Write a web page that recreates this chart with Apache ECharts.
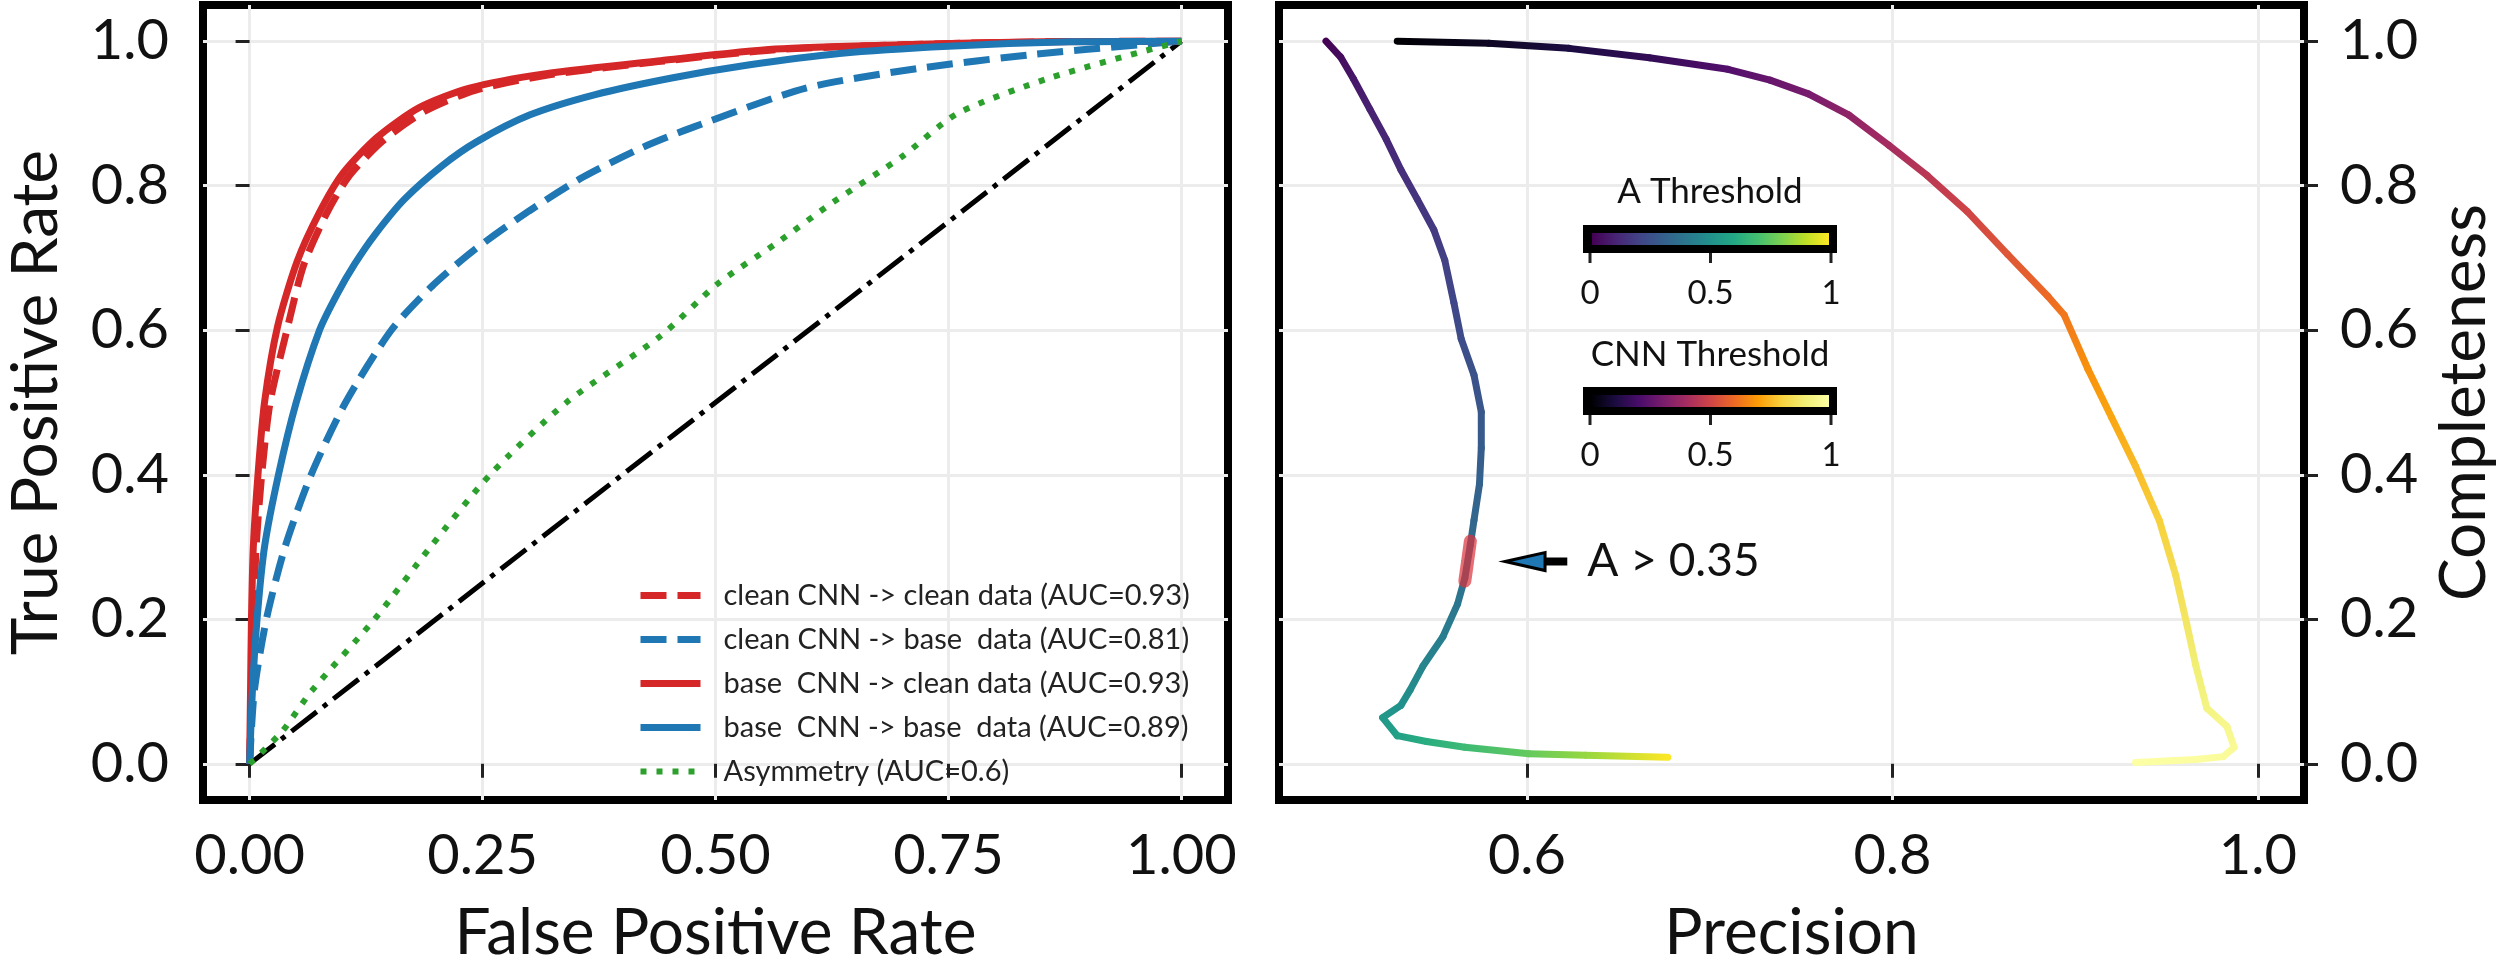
<!DOCTYPE html>
<html><head><meta charset="utf-8">
<script src="https://cdn.jsdelivr.net/npm/echarts@6/dist/echarts.min.js"></script>
<style>html,body{margin:0;padding:0;background:#fff}#c{width:2500px;height:970px}</style>
</head><body><div id="c"></div>
<script>
// ---------------- data ----------------
const rocXTicks = [0, 0.25, 0.5, 0.75, 1.0];
const rocYTicks = [0, 0.2, 0.4, 0.6, 0.8, 1.0];
const prXTicks = [0.6, 0.8, 1.0];
const prYTicks = [0, 0.2, 0.4, 0.6, 0.8, 1.0];
const cbTicks = [0, 0.5, 1];

const legendNames = [
  'clean CNN -> clean data (AUC=0.93)',
  'clean CNN -> base  data (AUC=0.81)',
  'base  CNN -> clean data (AUC=0.93)',
  'base  CNN -> base  data (AUC=0.89)',
  'Asymmetry (AUC=0.6)'
];

const cleanClean_fpr = [0,0.002,0.004,0.007,0.013,0.022,0.040,0.058,0.082,0.106,0.143,0.188,0.242,0.320,0.441,0.564,0.700,0.850,1.0];
const cleanClean_tpr = [0,0.10,0.20,0.30,0.40,0.50,0.60,0.69,0.76,0.812,0.862,0.903,0.932,0.953,0.972,0.988,0.995,0.999,1.0];

const cleanBase_fpr = [0,0.005,0.018,0.038,0.066,0.103,0.152,0.195,0.240,0.300,0.358,0.420,0.474,0.597,0.716,0.844,0.955,1.0];
const cleanBase_tpr = [0,0.10,0.20,0.30,0.40,0.50,0.60,0.66,0.71,0.765,0.812,0.852,0.880,0.935,0.962,0.982,0.995,1.0];

const baseClean_fpr = [0,0.001,0.002,0.004,0.009,0.016,0.030,0.051,0.075,0.100,0.137,0.182,0.236,0.318,0.441,0.564,0.700,0.850,1.0];
const baseClean_tpr = [0,0.10,0.20,0.30,0.40,0.50,0.605,0.695,0.763,0.817,0.867,0.908,0.935,0.955,0.973,0.989,0.995,0.999,1.0];

const baseBase_fpr = [0,0.003,0.008,0.016,0.031,0.050,0.075,0.094,0.113,0.135,0.166,0.207,0.244,0.301,0.371,0.453,0.535,0.633,0.750,0.880,1.0];
const baseBase_tpr = [0,0.10,0.20,0.30,0.40,0.50,0.600,0.650,0.692,0.733,0.781,0.828,0.861,0.898,0.926,0.949,0.967,0.983,0.993,0.999,1.0];

const asym_fpr = [0,0.035,0.066,0.134,0.194,0.258,0.340,0.441,0.502,0.565,0.626,0.700,0.760,0.861,1.0];
const asym_tpr = [0,0.045,0.10,0.20,0.30,0.40,0.50,0.592,0.664,0.720,0.777,0.840,0.900,0.950,1.0];

const chance_fpr = [0, 1];
const chance_tpr = [0, 1];

// Precision / completeness, A threshold curve (viridis)
const aPrec  = [0.490,0.498,0.505,0.514,0.523,0.531,0.540,0.549,0.555,0.560,0.564,0.571,0.575,0.575,0.574,0.571,0.569,0.566,0.562,0.554,0.543,0.536,0.531,0.521,0.529,0.545,0.566,0.601,0.632,0.677];
const aCompl = [1.000,0.978,0.948,0.906,0.864,0.822,0.781,0.739,0.697,0.638,0.588,0.538,0.487,0.437,0.387,0.337,0.303,0.257,0.221,0.176,0.135,0.102,0.081,0.064,0.039,0.031,0.023,0.014,0.012,0.009];
const aThr   = [0.00,0.03,0.06,0.09,0.11,0.13,0.15,0.17,0.19,0.21,0.23,0.25,0.27,0.29,0.31,0.33,0.35,0.37,0.39,0.42,0.45,0.48,0.50,0.53,0.57,0.62,0.68,0.76,0.84,1.00];

// highlighted A > 0.35 section
const hlPrec  = [0.569, 0.5675, 0.566];
const hlCompl = [0.308, 0.280, 0.253];

// CNN threshold curve (inferno)
const cPrec  = [0.529,0.579,0.623,0.667,0.710,0.733,0.754,0.776,0.798,0.819,0.841,0.863,0.885,0.894,0.907,0.920,0.933,0.946,0.955,0.961,0.966,0.972,0.983,0.987,0.981,0.966,0.933];
const cCompl = [1.000,0.997,0.990,0.977,0.961,0.946,0.927,0.898,0.856,0.814,0.764,0.705,0.647,0.621,0.546,0.479,0.412,0.337,0.261,0.194,0.136,0.077,0.052,0.023,0.010,0.006,0.002];
const cThr   = [0.00,0.05,0.10,0.15,0.22,0.26,0.30,0.35,0.40,0.45,0.50,0.55,0.60,0.63,0.68,0.72,0.76,0.80,0.84,0.87,0.90,0.93,0.95,0.97,0.98,0.99,1.00];

const annText = 'A > 0.35';
const annTip = [0.588, 0.28];
const annTextAt = [0.633, 0.28];

// ---------------- styles ----------------
const FONT = 'Lato';
const RED = '#d62728', BLUE = '#1f77b4', GREEN = '#2ca02c';
const VIRIDIS = ['#440154','#482475','#414487','#355f8d','#2a788e','#21918c','#22a884','#44bf70','#7ad151','#bddf26','#fde725'];
const INFERNO = ['#000004','#1b0c41','#4a0c6b','#781c6d','#a52c60','#cf4446','#ed6925','#fb9b06','#f7d13d','#f1ef75','#fcffa4'];

function hexToRgb(h){return [parseInt(h.slice(1,3),16),parseInt(h.slice(3,5),16),parseInt(h.slice(5,7),16)];}
function cmap(stops,t){
  t=Math.max(0,Math.min(1,t)); const n=stops.length-1; const f=t*n;
  const i=Math.min(n-1,Math.floor(f)); const u=f-i;
  const a=hexToRgb(stops[i]), b=hexToRgb(stops[i+1]);
  return 'rgb('+a.map((v,k)=>Math.round(v+(b[k]-v)*u)).join(',')+')';
}
function zip(a,b){return a.map((v,i)=>[v,b[i]]);}

function rocSeries(name, xs, ys, color, dash, width){
  return {type:'line', name:name, xAxisIndex:0, yAxisIndex:0, data:zip(xs,ys),
    symbol:'none', showSymbol:false, smooth:0.25, animation:false, z:3,
    lineStyle:{color:color, width:width, type:dash, cap:'butt'}, itemStyle:{color:color}};
}
function coloredSeries(xs, ys, ts, stops, width){
  const data = xs.map((x,i)=>[x, ys[i], ts[i]]);
  return {type:'custom', xAxisIndex:1, yAxisIndex:1, data:data, encode:{x:0,y:1}, z:3, animation:false,
    renderItem:function(params, api){
      const i = params.dataIndex;
      if (i >= data.length-1) return null;
      const p0 = api.coord([data[i][0], data[i][1]]);
      const p1 = api.coord([data[i+1][0], data[i+1][1]]);
      const c0 = cmap(stops, data[i][2]), c1 = cmap(stops, data[i+1][2]);
      return {type:'line', shape:{x1:p0[0],y1:p0[1],x2:p1[0],y2:p1[1]},
        style:{stroke:new echarts.graphic.LinearGradient(p0[0],p0[1],p1[0]+0.01,p1[1]+0.01,[{offset:0,color:c0},{offset:1,color:c1}],true),
               lineWidth:width, lineCap:'round'}};
    }};
}

const tickStyle = {show:true, inside:false, length:14, lineStyle:{width:3, color:'#222'}};
const splitStyle = {show:true, lineStyle:{color:'#ececec', width:3}};
const labelStyle = {fontSize:56, color:'#111', fontFamily:FONT};
const nameStyle = {fontSize:64, color:'#111', fontFamily:FONT};

const option = {
  animation:false,
  backgroundColor:'#ffffff',
  textStyle:{fontFamily:FONT},
  grid:[
    {left:203, top:5, width:1025, height:812, show:true, borderColor:'#000', borderWidth:8, backgroundColor:'rgba(0,0,0,0)'},
    {left:1279, top:5, width:1025, height:812, show:true, borderColor:'#000', borderWidth:8, backgroundColor:'rgba(0,0,0,0)'}
  ],
  xAxis:[
    {gridIndex:0, type:'value', min:-0.05, max:1.05, name:'False Positive Rate', nameLocation:'middle', nameGap:101, nameTextStyle:nameStyle,
     axisLine:{show:false}, axisTick:Object.assign({customValues:rocXTicks}, tickStyle),
     axisLabel:Object.assign({customValues:rocXTicks, margin:28, formatter:v=>v.toFixed(2)}, labelStyle), splitLine:splitStyle},
    {gridIndex:1, type:'value', min:0.4643, max:1.0252, name:'Precision', nameLocation:'middle', nameGap:101, nameTextStyle:nameStyle,
     axisLine:{show:false}, axisTick:Object.assign({customValues:prXTicks}, tickStyle),
     axisLabel:Object.assign({customValues:prXTicks, margin:28, formatter:v=>v.toFixed(1)}, labelStyle), splitLine:splitStyle}
  ],
  yAxis:[
    {gridIndex:0, type:'value', min:-0.05, max:1.05, name:'True Positive Rate', nameLocation:'middle', nameGap:135, nameRotate:90, nameTextStyle:nameStyle,
     axisLine:{show:false}, axisTick:Object.assign({customValues:rocYTicks}, tickStyle),
     axisLabel:Object.assign({customValues:rocYTicks, margin:34, formatter:v=>v.toFixed(1)}, labelStyle), splitLine:splitStyle},
    {gridIndex:1, type:'value', position:'right', min:-0.05, max:1.05, name:'Completeness', nameLocation:'middle', nameGap:128, nameRotate:90, nameTextStyle:nameStyle,
     axisLine:{show:false}, axisTick:Object.assign({customValues:prYTicks}, tickStyle),
     axisLabel:Object.assign({customValues:prYTicks, margin:36, formatter:v=>v.toFixed(1)}, labelStyle), splitLine:splitStyle}
  ],
  legend:{data:legendNames, orient:'vertical', left:632, top:576, itemWidth:60, itemHeight:30, itemGap:15,
    itemStyle:{opacity:0}, lineStyle:{width:'inherit'},
    textStyle:{fontSize:29, color:'#222', fontFamily:FONT, padding:[0,0,0,18]}},
  series:[
    Object.assign(rocSeries('', chance_fpr, chance_tpr, '#000', [32,8,5,8], 5), {z:2, smooth:false}),
    rocSeries(legendNames[0], cleanClean_fpr, cleanClean_tpr, RED, [26,11], 7),
    rocSeries(legendNames[1], cleanBase_fpr, cleanBase_tpr, BLUE, [26,11], 7),
    rocSeries(legendNames[2], baseClean_fpr, baseClean_tpr, RED, 'solid', 7),
    rocSeries(legendNames[3], baseBase_fpr, baseBase_tpr, BLUE, 'solid', 7),
    rocSeries(legendNames[4], asym_fpr, asym_tpr, GREEN, [6,10], 6),
    coloredSeries(aPrec, aCompl, aThr, VIRIDIS, 7),
    coloredSeries(cPrec, cCompl, cThr, INFERNO, 7),
    {type:'line', xAxisIndex:1, yAxisIndex:1, data:zip(hlPrec, hlCompl), symbol:'none', z:4,
     lineStyle:{color:'rgba(220,50,60,0.7)', width:13, cap:'round'}}
  ]
};

const chart = echarts.init(document.getElementById('c'));
chart.setOption(option);

// colorbars and annotation
function grad(stops){return new echarts.graphic.LinearGradient(0,0,1,0, stops.map((c,i)=>({offset:i/(stops.length-1), color:c})));}
function colorbar(title, stops, titleY, barY, labelY){
  const x0 = 1590, x1 = 1831, els = [];
  els.push({type:'text', style:{x:1710, y:titleY, text:title, fill:'#111', font:'35px '+FONT, textAlign:'center', textVerticalAlign:'middle'}, z:10});
  els.push({type:'rect', shape:{x:1583, y:barY, width:254, height:28}, style:{fill:'#000'}, z:10});
  els.push({type:'rect', shape:{x:1592, y:barY+8, width:237, height:12}, style:{fill:grad(stops)}, z:11});
  cbTicks.forEach(v=>{
    const x = x0 + (x1-x0)*v;
    els.push({type:'line', shape:{x1:x, y1:barY+28, x2:x, y2:barY+38}, style:{stroke:'#222', lineWidth:3}, z:10});
    els.push({type:'text', style:{x:x, y:labelY, text:String(v), fill:'#111', font:'33px '+FONT, textAlign:'center', textVerticalAlign:'middle'}, z:10});
  });
  return els;
}
const tip = chart.convertToPixel({gridIndex:1}, annTip);
const tx = chart.convertToPixel({gridIndex:1}, annTextAt);
const graphics = [].concat(
  colorbar('A Threshold', VIRIDIS, 192, 225, 293),
  colorbar('CNN Threshold', INFERNO, 355, 387, 455),
  [
    {type:'rect', shape:{x:tip[0]+36, y:tip[1]-4, width:(tx[0]-20)-(tip[0]+36), height:8}, style:{fill:'#000'}, z:10},
    {type:'polygon', shape:{points:[[tip[0],tip[1]],[tip[0]+40,tip[1]-9],[tip[0]+40,tip[1]+9]]}, style:{fill:BLUE, stroke:'#000', lineWidth:3, lineJoin:'miter'}, z:11},
    {type:'text', style:{x:tx[0], y:tx[1], text:annText, fill:'#111', font:'46px '+FONT, textAlign:'left', textVerticalAlign:'middle'}, z:10}
  ]
);
chart.setOption({graphic:graphics});
</script></body></html>
